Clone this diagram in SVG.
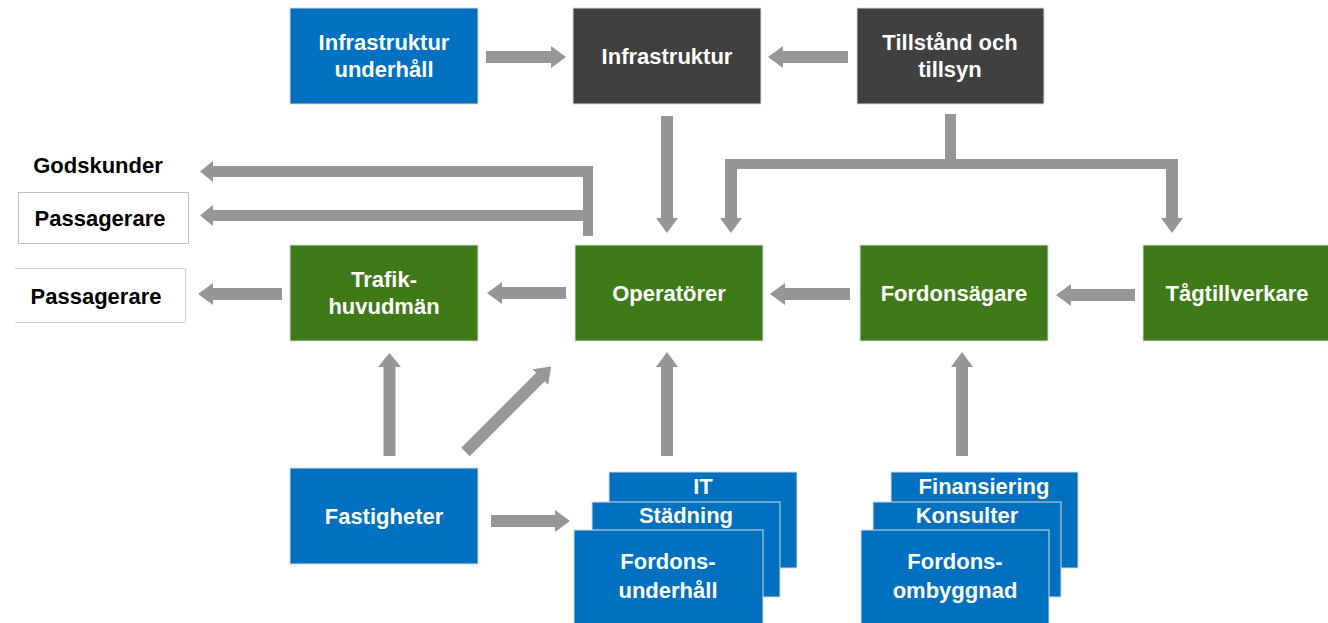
<svg xmlns="http://www.w3.org/2000/svg" width="1328" height="623" viewBox="0 0 1328 623">
<style>
.blue{fill:#0070C0;stroke:#d9d9d9;stroke-width:1}
.dark{fill:#404040;stroke:#d9d9d9;stroke-width:1}
.green{fill:#3F7A18;stroke:#d9d9d9;stroke-width:1}
.wbox{fill:#ffffff;stroke:#bfbfbf;stroke-width:1}
.t{font-family:"Liberation Sans",Arial,sans-serif;font-weight:bold;font-size:22px;text-anchor:middle;fill:#ffffff}
.k{fill:#000000}
.arr{fill:#969696}
</style>
<rect width="1328" height="623" fill="#ffffff"/>
<g id="connectors">
<polygon class="arr" points="486,51 551,51 551,46 566,57 551,68 551,63 486,63"/>
<polygon class="arr" points="848,51 783,51 783,46 768,57 783,68 783,63 848,63"/>
<polygon class="arr" points="661,116 673,116 673,218 678,218 667,233 656,218 661,218"/>
<polygon class="arr" points="945,114 956,114 956,159 1178,159 1178,218 1183,218 1172,233 1161,218 1166,218 1166,169 737,169 737,218 742,218 731,233 720,218 725,218 725,159 945,159"/>
<polygon class="arr" points="593,236 583,236 583,221 213,221 213,226 200,215.5 213,205 213,210 583,210 583,177 213,177 213,182 200,171.5 213,161 213,166 593,166"/>
<polygon class="arr" points="566,287 502,287 502,282 487,293 502,304 502,299 566,299"/>
<polygon class="arr" points="282,288 213,288 213,283 198,294 213,305 213,300 282,300"/>
<polygon class="arr" points="850,288 785,288 785,283 770,294 785,305 785,300 850,300"/>
<polygon class="arr" points="1135,289 1071,289 1071,284 1056,295 1071,306 1071,301 1135,301"/>
<polygon class="arr" points="383.5,456 395.5,456 395.5,367 401,367 389.5,353 378,367 383.5,367"/>
<polygon class="arr" transform="translate(465.5,452) rotate(-45)" points="0,-6 106,-6 106,-11 121,0 106,11 106,6 0,6"/>
<polygon class="arr" points="661,456 673,456 673,367 678,367 667,352 656,367 661,367"/>
<polygon class="arr" points="956,456 968,456 968,367 973,367 962,352 951,367 956,367"/>
<polygon class="arr" points="491,515 555,515 555,510 570,521 555,532 555,527 491,527"/>
</g>
<g id="godskunder"><text class="t k" x="98" y="173">Godskunder</text></g>
<g id="passagerare1"><rect class="wbox" x="18.5" y="192.5" width="170" height="51"/><text class="t k" x="100" y="226">Passagerare</text></g>
<g id="passagerare2"><path d="M15,268.5 H185.5 V322.5 H15" fill="#ffffff" stroke="#d0d0d0" stroke-width="1"/><text class="t k" x="96" y="304">Passagerare</text></g>
<g id="infra-underhall"><rect class="blue" x="290" y="8" width="188" height="96"/><text class="t" x="384" y="50">Infrastruktur</text><text class="t" x="384" y="77">underhåll</text></g>
<g id="infrastruktur"><rect class="dark" x="573" y="8" width="188" height="96"/><text class="t" x="667" y="64">Infrastruktur</text></g>
<g id="tillstand"><rect class="dark" x="857" y="8" width="187" height="96"/><text class="t" x="950" y="50">Tillstånd och</text><text class="t" x="950" y="77">tillsyn</text></g>
<g id="trafikhuvudman"><rect class="green" x="290" y="245" width="188" height="96"/><text class="t" x="384" y="287">Trafik-</text><text class="t" x="384" y="314">huvudmän</text></g>
<g id="operatorer"><rect class="green" x="575" y="245" width="188" height="96"/><text class="t" x="669" y="301">Operatörer</text></g>
<g id="fordonsagare"><rect class="green" x="860" y="245" width="188" height="96"/><text class="t" x="954" y="301">Fordonsägare</text></g>
<g id="tagtillverkare"><rect class="green" x="1143" y="245" width="190" height="96"/><text class="t" x="1237" y="301">Tågtillverkare</text></g>
<g id="fastigheter"><rect class="blue" x="290" y="468" width="188" height="96"/><text class="t" x="384" y="524">Fastigheter</text></g>
<g id="it"><rect class="blue" x="609" y="472" width="188" height="96"/><text class="t" x="703" y="494">IT</text></g>
<g id="stadning"><rect class="blue" x="592" y="502" width="188" height="95"/><text class="t" x="686" y="523">Städning</text></g>
<g id="fordonsunderhall"><rect class="blue" x="574" y="530" width="189" height="100"/><text class="t" x="668" y="569">Fordons-</text><text class="t" x="668" y="598">underhåll</text></g>
<g id="finansiering"><rect class="blue" x="891" y="472" width="187" height="96"/><text class="t" x="984" y="494">Finansiering</text></g>
<g id="konsulter"><rect class="blue" x="873" y="502" width="188" height="95"/><text class="t" x="967" y="523">Konsulter</text></g>
<g id="fordonsombyggnad"><rect class="blue" x="861" y="530" width="188" height="100"/><text class="t" x="955" y="569">Fordons-</text><text class="t" x="955" y="598">ombyggnad</text></g>
</svg>
